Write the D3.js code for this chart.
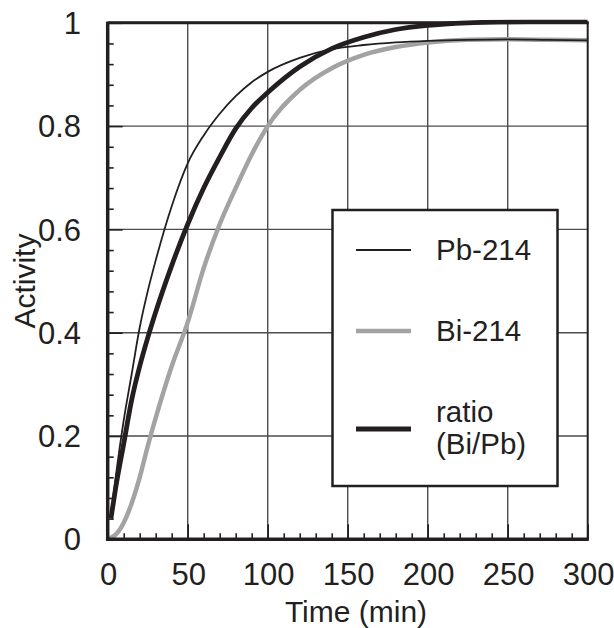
<!DOCTYPE html>
<html><head><meta charset="utf-8">
<script src="https://cdn.jsdelivr.net/npm/d3@7"></script>
<style>
html,body{margin:0;padding:0;background:#fff;}
text{font-family:"Liberation Sans",Arial,sans-serif;fill:#231f20;}
</style></head>
<body><svg id="c" width="614" height="628"></svg>
<script>
// ---- data ----
const times = [0,2,5,10,15,20,25,30,40,50,60,70,80,90,100,120,140,160,180,200,225,250,275,300];
const pb214 = [null,0.045,0.12,0.23,0.32,0.41,0.48,0.54,0.645,0.728,0.782,0.824,0.858,0.885,0.905,0.932,0.949,0.957,0.962,0.965,0.967,0.968,0.967,0.966];
const bi214 = [0,0.003,0.009,0.032,0.07,0.12,0.18,0.235,0.335,0.42,0.525,0.61,0.68,0.745,0.8,0.87,0.912,0.938,0.953,0.962,0.967,0.968,0.967,0.966];
const ratio = [null,0.04,0.1,0.185,0.27,0.335,0.39,0.44,0.53,0.61,0.68,0.74,0.795,0.835,0.865,0.915,0.95,0.972,0.987,0.995,1.0,1.002,1.003,1.004];
const xTicks = [0,50,100,150,200,250,300];
const yTicks = [0,0.2,0.4,0.6,0.8,1];
const yTickLabels = ["0","0.2","0.4","0.6","0.8","1"];
const legendLabels = [["Pb-214"],["Bi-214"],["ratio","(Bi/Pb)"]];

const svg = d3.select("#c");
const x = d3.scaleLinear().domain([0,300]).range([107.7,587.7]);
const y = d3.scaleLinear().domain([0,1]).range([539.3,22.8]);
const ink = "#231f20";

// gridlines
const g = svg.append("g");
g.selectAll("line.vx").data(xTicks.slice(1,-1)).join("line")
  .attr("x1",d=>x(d)).attr("x2",d=>x(d)).attr("y1",y(0)).attr("y2",y(1))
  .attr("stroke","#4d4d4d").attr("stroke-width",1.4);
g.selectAll("line.hy").data(yTicks.slice(1,-1)).join("line")
  .attr("y1",d=>y(d)).attr("y2",d=>y(d)).attr("x1",x(0)).attr("x2",x(300))
  .attr("stroke","#4d4d4d").attr("stroke-width",1.4);

// minor + major ticks (inward)
const minorX = d3.range(0,301,10).filter(v=>v%50!==0);
const minorY = d3.range(0,1.0001,0.04).filter(v=>Math.abs(v*5-Math.round(v*5))>1e-6);
const axB = svg.append("g").attr("transform",`translate(0,${y(0)})`)
  .call(d3.axisBottom(x).tickValues(minorX).tickSize(-6).tickFormat(""));
const axB2 = svg.append("g").attr("transform",`translate(0,${y(0)})`)
  .call(d3.axisBottom(x).tickValues(xTicks).tickSize(-15).tickFormat(""));
const axL = svg.append("g").attr("transform",`translate(${x(0)},0)`)
  .call(d3.axisLeft(y).tickValues(minorY).tickSize(-6).tickFormat(""));
const axL2 = svg.append("g").attr("transform",`translate(${x(0)},0)`)
  .call(d3.axisLeft(y).tickValues(yTicks).tickSize(-15).tickFormat(""));
[axB,axB2,axL,axL2].forEach(a=>{
  a.select(".domain").remove();
  a.selectAll(".tick line").attr("stroke",ink).attr("stroke-width",1.6);
});

// tick labels
svg.append("g").selectAll("text").data(xTicks).join("text")
  .attr("x",d=>x(d)+1).attr("y",585).attr("text-anchor","middle")
  .style("font-size","31px").text(d=>d3.format("d")(d));
svg.append("g").selectAll("text").data(yTicks).join("text")
  .attr("x",81).attr("y",d=>y(d)).attr("dy","0.36em").attr("text-anchor","end")
  .style("font-size","31px").text((d,i)=>yTickLabels[i]);

// curves
const clipId="plotclip";
svg.append("clipPath").attr("id",clipId).append("rect")
  .attr("x",x(0)).attr("y",y(1)-3).attr("width",x(300)-x(0)).attr("height",y(0)-y(1)+3);
const line = arr => d3.line().defined((d,i)=>arr[i]!==null)
  .x((d,i)=>x(times[i])).y((d,i)=>y(arr[i])).curve(d3.curveMonotoneX)(times);
const cg = svg.append("g").attr("clip-path",`url(#${clipId})`);
cg.append("path").attr("d",line(bi214)).attr("fill","none").attr("stroke","#a3a3a5").attr("stroke-width",4.5);
cg.append("path").attr("d",line(pb214)).attr("fill","none").attr("stroke",ink).attr("stroke-width",1.8);
cg.append("path").attr("d",line(ratio)).attr("fill","none").attr("stroke",ink).attr("stroke-width",4.8);

// frame
svg.append("rect").attr("x",x(0)).attr("y",y(1)).attr("width",x(300)-x(0)).attr("height",y(0)-y(1))
  .attr("fill","none").attr("stroke",ink).attr("stroke-width",2);
svg.append("line").attr("x1",x(0)).attr("x2",x(0)).attr("y1",y(1)-1).attr("y2",y(0)+1.5).attr("stroke",ink).attr("stroke-width",3.5);
svg.append("line").attr("x1",x(0)-1.5).attr("x2",x(300)+1).attr("y1",y(0)).attr("y2",y(0)).attr("stroke",ink).attr("stroke-width",3.5);
svg.append("line").attr("x1",x(0)).attr("x2",x(300)+1).attr("y1",y(1)).attr("y2",y(1)).attr("stroke",ink).attr("stroke-width",3);

// axis titles
svg.append("text").attr("x",356).attr("y",622).attr("text-anchor","middle")
  .style("font-size","30px").text("Time (min)");
svg.append("text").attr("transform",`translate(35,${(y(0)+y(1))/2}) rotate(-90)`).attr("text-anchor","middle")
  .style("font-size","30px").text("Activity");

// legend
const lg = svg.append("g");
lg.append("rect").attr("x",332.5).attr("y",210).attr("width",225).attr("height",276)
  .attr("fill","#fff").attr("stroke",ink).attr("stroke-width",2.5);
const legY = [250,331,429];
const legStyle = [{c:ink,w:1.8},{c:"#a3a3a5",w:4.5},{c:ink,w:4.8}];
legendLabels.forEach((lab,i)=>{
  lg.append("line").attr("x1",356).attr("x2",411).attr("y1",legY[i]).attr("y2",legY[i])
    .attr("stroke",legStyle[i].c).attr("stroke-width",legStyle[i].w);
  const t = lg.append("text").attr("x",436).style("font-size","29.5px");
  if(lab.length===1){
    t.attr("y",legY[i]+10).text(lab[0]);
  } else {
    t.attr("y",legY[i]-7).text(lab[0]);
    lg.append("text").attr("x",436).attr("y",legY[i]+25).style("font-size","29.5px").text(lab[1]);
  }
});
</script></body></html>
